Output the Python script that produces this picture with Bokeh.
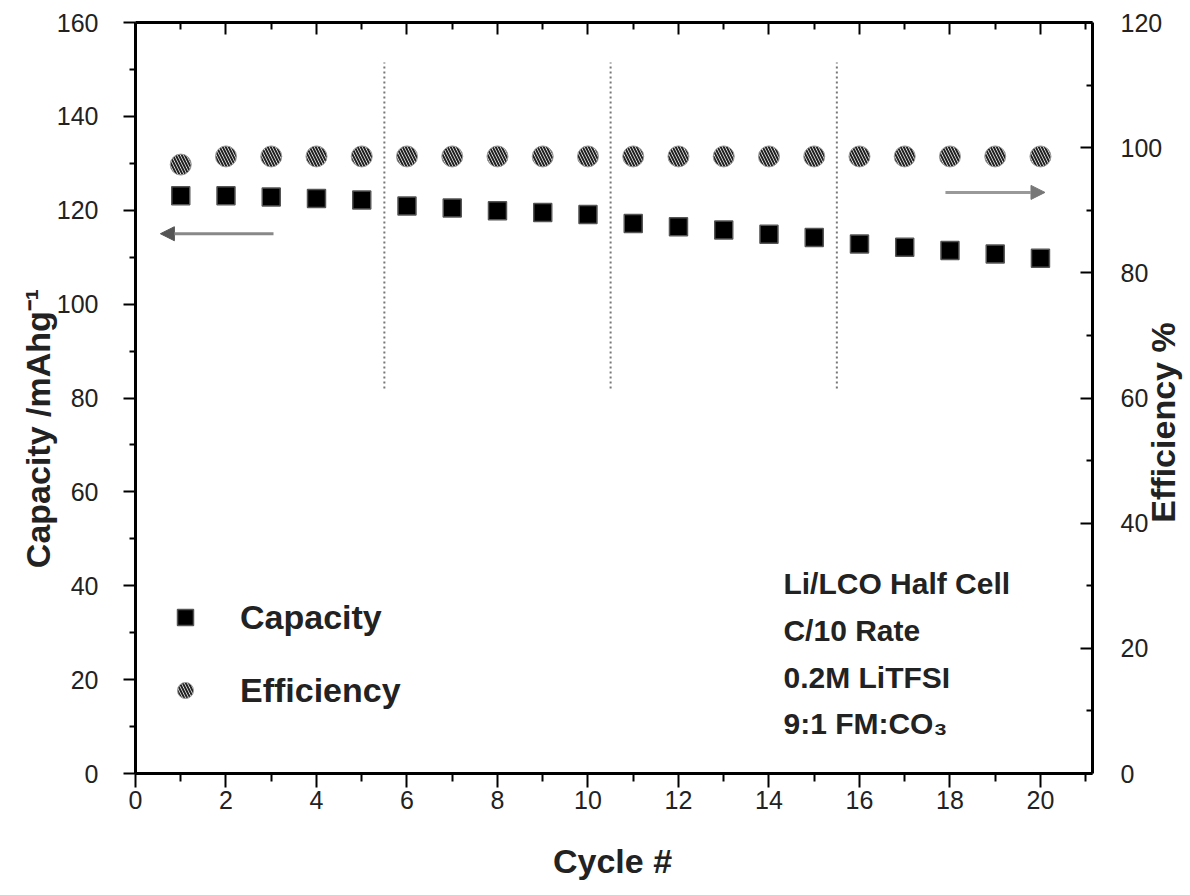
import math
from bokeh.plotting import figure
from bokeh.models import (Range1d, LinearAxis, FixedTicker, Legend, LegendItem,
                          Label, Arrow, NormalHead, ColumnDataSource)
from bokeh.embed import file_html
from bokeh.resources import INLINE

# ---- data ----
cycles = list(range(1, 21))
capacity = [123.1, 123.1, 122.8, 122.5, 122.2, 120.9, 120.5, 119.9, 119.5, 119.1,
            117.2, 116.5, 115.8, 114.9, 114.2, 112.8, 112.1, 111.4, 110.7, 109.8]
efficiency = [97.3, 98.6, 98.6, 98.6, 98.6, 98.6, 98.6, 98.6, 98.6, 98.6,
              98.6, 98.6, 98.6, 98.6, 98.6, 98.6, 98.6, 98.6, 98.6, 98.6]
dividers = [5.5, 10.5, 15.5]
divider_low = 82
divider_high = 151.5
x_major = list(range(0, 21, 2))
x_minor = list(range(1, 22, 2))
y_major = list(range(0, 161, 20))
y_minor = list(range(10, 160, 20))
e_major = list(range(0, 121, 20))
e_minor = list(range(10, 120, 20))
notes = ["Li/LCO Half Cell", "C/10 Rate", "0.2M LiTFSI", "9:1 FM:CO\u2083"]
note_y = [40.5, 30.5, 20.4, 10.6]

# plot box: data limits and where they sit on the canvas (px)
X_END, Y_END, E_END = 21.15, 160, 120
FIG_W, FIG_H = 1188, 887
BOX_L, BOX_R, BOX_T, BOX_B = 135, 1092, 22, 773
sx = X_END / (BOX_R - BOX_L)          # data units per px
sy = Y_END / (BOX_B - BOX_T)
se = E_END / (BOX_B - BOX_T)

FONT = "Liberation Sans"
TXT = "#222222"

p = figure(width=FIG_W, height=FIG_H,
           x_range=Range1d(-BOX_L * sx, (FIG_W - BOX_L) * sx),
           y_range=Range1d(-(FIG_H - BOX_B) * sy, Y_END + BOX_T * sy),
           output_backend="svg", toolbar_location=None,
           min_border_left=0, min_border_right=0, min_border_top=0, min_border_bottom=0,
           x_axis_location=None, y_axis_location=None)
p.extra_y_ranges = {"eff": Range1d(-(FIG_H - BOX_B) * se, E_END + BOX_T * se)}
p.xgrid.visible = False
p.ygrid.visible = False
p.outline_line_color = None
p.background_fill_color = "white"
p.border_fill_color = "white"


def style(ax, size="25px"):
    ax.axis_line_width = 3
    ax.axis_line_color = "black"
    ax.major_tick_line_width = 2
    ax.minor_tick_line_width = 2
    ax.major_label_text_font = FONT
    ax.major_label_text_font_size = size
    ax.major_label_text_color = TXT


# bottom axis
xb = LinearAxis(ticker=FixedTicker(ticks=x_major, minor_ticks=x_minor),
                bounds=(0, X_END), fixed_location=0)
style(xb)
xb.major_tick_out = 14
xb.major_tick_in = 0
xb.minor_tick_out = 8
xb.minor_tick_in = 0
xb.major_label_standoff = 3
p.add_layout(xb, "below")

# top axis (mirror, ticks inside, no labels)
xt = LinearAxis(ticker=FixedTicker(ticks=x_major, minor_ticks=x_minor),
                bounds=(0, X_END), fixed_location=Y_END)
style(xt, "1px")
xt.major_label_overrides = {t: "" for t in x_major}
xt.major_tick_out = 0
xt.major_tick_in = 12
xt.minor_tick_out = 0
xt.minor_tick_in = 7
xt.major_label_standoff = 0
p.add_layout(xt, "above")

# left axis (capacity)
yl = LinearAxis(ticker=FixedTicker(ticks=y_major, minor_ticks=y_minor),
                bounds=(0, Y_END), fixed_location=0)
style(yl)
yl.major_tick_out = 12
yl.major_tick_in = 0
yl.minor_tick_out = 6
yl.minor_tick_in = 0
yl.major_label_standoff = 25
p.add_layout(yl, "left")

# right axis (efficiency)
yr = LinearAxis(y_range_name="eff", ticker=FixedTicker(ticks=e_major, minor_ticks=e_minor),
                bounds=(0, E_END), fixed_location=X_END)
style(yr)
yr.major_tick_out = 0
yr.major_tick_in = 12
yr.minor_tick_out = 0
yr.minor_tick_in = 6
yr.major_label_standoff = 28
p.add_layout(yr, "right")

# divider lines
p.segment(x0=dividers, y0=[divider_low] * len(dividers), x1=dividers,
          y1=[divider_high] * len(dividers), line_color="#777777", line_width=2,
          line_dash="2 3")

src = ColumnDataSource(dict(cycle=cycles, cap=capacity, eff=efficiency))
sq = p.scatter("cycle", "cap", source=src, marker="square", size=18,
               fill_color="black", line_color="#555555", line_width=1.5)
ci = p.scatter("cycle", "eff", source=src, marker="circle", size=21, y_range_name="eff",
               fill_color="white", line_color="#999999", line_width=1,
               hatch_pattern="\\", hatch_color="#222222", hatch_scale=6, hatch_weight=2)

# arrows
p.add_layout(Arrow(end=NormalHead(size=14, fill_color="#555555", line_color="#555555"),
                   x_start=3.05, y_start=115, x_end=0.55, y_end=115,
                   line_color="#888888", line_width=3))
p.add_layout(Arrow(end=NormalHead(size=14, fill_color="#777777", line_color="#777777"),
                   x_start=17.9, y_start=123.8, x_end=20.1, y_end=123.8,
                   line_color="#999999", line_width=3))

legend = Legend(items=[LegendItem(label="Capacity", renderers=[sq]),
                       LegendItem(label="Efficiency", renderers=[ci])],
                location=(165, FIG_H - 710), glyph_width=40, glyph_height=40,
                label_height=40, spacing=33, label_standoff=35, padding=0, margin=0,
                border_line_color=None, background_fill_alpha=0,
                label_text_font=FONT, label_text_font_size="34px",
                label_text_font_style="bold", label_text_color=TXT)
p.add_layout(legend)

for t, yv in zip(notes, note_y):
    p.add_layout(Label(x=14.32, y=yv, text=t, text_font=FONT, text_font_size="30px",
                       text_font_style="bold", text_color=TXT, text_baseline="middle"))

# axis titles
title_kw = dict(text_align="center", text_baseline="middle", text_font=FONT,
                text_font_size="34px", text_font_style="bold", text_color=TXT)
p.add_layout(Label(x=(37 - BOX_L) * sx, y=(BOX_B - 428) * sy,
                   text="Capacity /mAhg\u207b\u00b9", angle=math.pi / 2, **title_kw))
p.add_layout(Label(x=(612 - BOX_L) * sx, y=(BOX_B - 860) * sy, text="Cycle #", **title_kw))
p.add_layout(Label(x=(1162 - BOX_L) * sx, y=(BOX_B - 422) * sy, text="Efficiency %",
                   angle=math.pi / 2, **title_kw))

open("out.html", "w").write(file_html(p, INLINE))
